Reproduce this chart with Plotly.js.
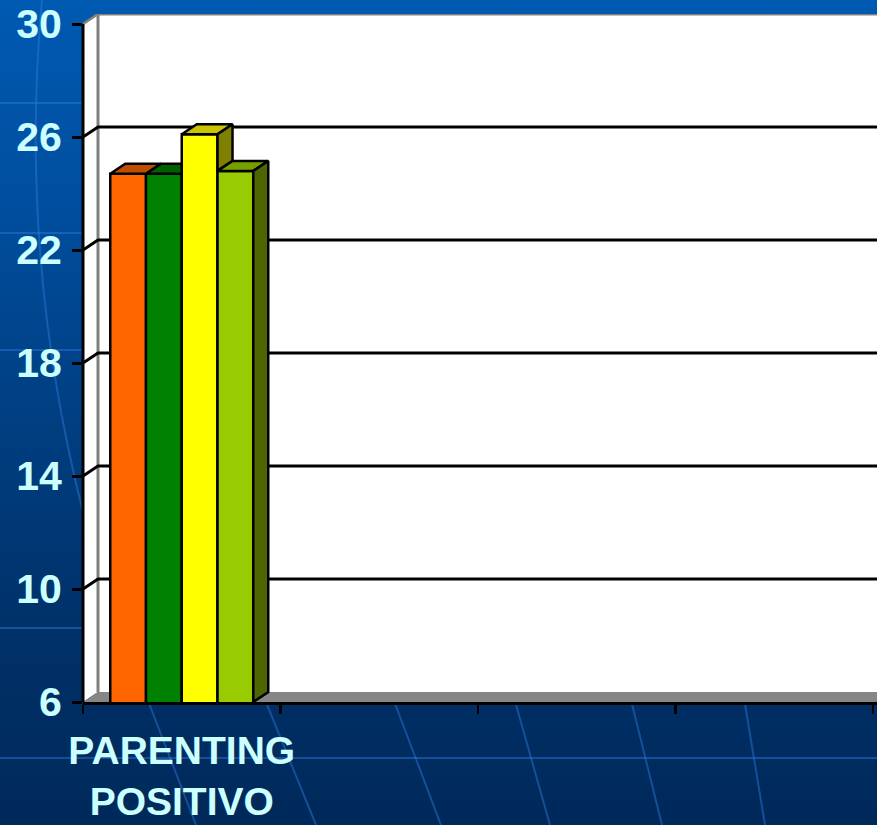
<!DOCTYPE html>
<html>
<head>
<meta charset="utf-8">
<script src="https://cdn.plot.ly/plotly-3.0.1.min.js"></script>
<style>
  html, body { margin: 0; padding: 0; width: 877px; height: 825px; overflow: hidden; }
  body { background: linear-gradient(to bottom, #005AB1 0%, #004E9E 25%, #003F82 50%, #00326A 75%, #00295A 100%); }
  #chart { width: 877px; height: 825px; }
</style>
</head>
<body>
<div id="chart"></div>
<script>
// ---- data ----
const categories = ['PARENTING<br>POSITIVO', '', '', ''];
const seriesNames = ['Serie 1', 'Serie 2', 'Serie 3', 'Serie 4'];
const serie1 = [24.7, null, null, null];
const serie2 = [24.7, null, null, null];
const serie3 = [26.1, null, null, null];
const serie4 = [24.8, null, null, null];
const yTickVals = [6, 10, 14, 18, 22, 26, 30];

// ---- styles ----
const frontColors = ['#FF6600', '#008000', '#FFFF00', '#99CC00'];
const topColors   = ['#C04D00', '#006000', '#C8C400', '#76A000'];
const sideColors  = ['#803300', '#004000', '#808000', '#4D6600'];
const labelColor = '#CCFFFF';
const fontFam = '"Liberation Sans", Arial, sans-serif';

const seriesValues = [serie1, serie2, serie3, serie4];
const yMin = 6, yMax = 30;
const bargap = 0.276;
const xLo = -0.5, xHi = 3.52;
const dxPx = 15, dyPx = 10;
const plotL = 83, plotR = 877, plotT = 14, plotB = 702;
const pxPerX = (plotR - plotL) / (xHi - xLo);
const dx = dxPx / pxPerX;
const pxPerY = (plotB - 24) / (yMax - yMin);
const dy = dyPx / pxPerY;
const yTop = yMin + (plotB - plotT) / pxPerY;

const xIdx = categories.map((c, i) => i);
const traces = [];
seriesValues.forEach((vals, s) => {
  traces.push({
    type: 'bar', x: xIdx, y: vals, name: seriesNames[s],
    marker: { color: frontColors[s], line: { color: '#000', width: 2.5 } },
    showlegend: false, hoverinfo: 'y'
  });
});

// 3D top and side faces derived from the same values
const n = seriesValues.length;
const groupW = 1 - bargap;
const w = groupW / n;
function poly(xs, ys, color) {
  traces.push({
    type: 'scatter', mode: 'lines', x: xs.concat([xs[0]]), y: ys.concat([ys[0]]),
    fill: 'toself', fillcolor: color, line: { color: '#000', width: 2.5 },
    hoverinfo: 'skip', showlegend: false
  });
}
xIdx.forEach(c => {
  for (let s = 0; s < n; s++) {
    const v = seriesValues[s][c];
    if (v == null) continue;
    const x0 = c - groupW / 2 + s * w, x1 = x0 + w;
    const v2 = s < n - 1 ? seriesValues[s + 1][c] : null;
    // top face
    if (v2 == null || v2 <= v) {
      poly([x0, x0 + dx, x1 + dx, x1], [v, v + dy, v + dy, v], topColors[s]);
    } else if (v2 >= v + dy) {
      poly([x0, x0 + dx, x1, x1], [v, v + dy, v + dy, v], topColors[s]);
    } else {
      const xc = x1 + dx * (v2 - v) / dy;
      poly([x0, x0 + dx, x1 + dx, xc, x1, x1], [v, v + dy, v + dy, v2, v2, v], topColors[s]);
    }
    // side face
    if (v2 == null) {
      poly([x1, x1, x1 + dx, x1 + dx], [yMin, v, v + dy, yMin + dy], sideColors[s]);
    } else if (v > v2) {
      poly([x1, x1, x1 + dx, x1 + dx], [v2, v, v + dy, v2 + dy], sideColors[s]);
    }
  }
});

// ---- shapes: walls, floor, gridlines, decoration ----
const px2px = x => (x - plotL) / (plotR - plotL);
const py2py = y => (plotB - y) / (plotB - plotT);
const deco = 'rgba(45,125,225,0.45)';
const shapes = [];
[103, 233, 350, 628, 758].forEach(y => shapes.push({
  type: 'line', xref: 'paper', yref: 'paper', x0: px2px(0), x1: px2px(877), y0: py2py(y), y1: py2py(y),
  line: { color: deco, width: 2 }, layer: 'below'
}));
[[148, 196], [265, 316], [394, 441], [517, 550], [634, 662], [749, 765]].forEach(p => shapes.push({
  type: 'line', xref: 'paper', yref: 'paper', x0: px2px(p[0] - 8), y0: py2py(680), x1: px2px(p[1]), y1: py2py(825),
  line: { color: deco, width: 2 }, layer: 'below'
}));
shapes.push({
  type: 'path', xref: 'paper', yref: 'paper', layer: 'below',
  path: `M ${px2px(42)} ${py2py(0)} Q ${px2px(18)} ${py2py(260)} ${px2px(85)} ${py2py(520)}`,
  line: { color: deco, width: 2 }
});
// back wall
shapes.push({ type: 'rect', xref: 'x', yref: 'y', x0: xLo + dx, x1: xHi + 1, y0: yMin + dy, y1: yMax + dy,
  fillcolor: '#FFFFFF', line: { width: 0 }, layer: 'below' });
// side wall
shapes.push({ type: 'path', xref: 'x', yref: 'y', layer: 'below',
  path: `M ${xLo} ${yMin} L ${xLo} ${yMax} L ${xLo + dx} ${yMax + dy} L ${xLo + dx} ${yMin + dy} Z`,
  fillcolor: '#FFFFFF', line: { width: 0 } });
// floor
shapes.push({ type: 'path', xref: 'x', yref: 'y', layer: 'below',
  path: `M ${xLo} ${yMin} L ${xLo + dx} ${yMin + dy} L ${xHi + 1} ${yMin + dy} L ${xHi + 1} ${yMin} Z`,
  fillcolor: '#868686', line: { width: 0 } });
// wall edges (gray)
shapes.push({ type: 'path', xref: 'x', yref: 'y', layer: 'below',
  path: `M ${xLo + dx} ${yMin + dy} L ${xLo + dx} ${yMax + dy} L ${xHi + 1} ${yMax + dy}`,
  line: { color: '#808080', width: 3 } });
shapes.push({ type: 'line', xref: 'x', yref: 'y', layer: 'below',
  x0: xLo, y0: yMax, x1: xLo + dx, y1: yMax + dy, line: { color: '#808080', width: 2.5 } });
// gridlines on back wall
yTickVals.filter(v => v > yMin && v < yMax).forEach(v => shapes.push({
  type: 'path', xref: 'x', yref: 'y', layer: 'below',
  path: `M ${xLo} ${v} L ${xLo + dx} ${v + dy} L ${xHi + 1} ${v + dy}`,
  line: { color: '#000', width: 3 }
}));
// front value axis line
shapes.push({ type: 'line', xref: 'paper', yref: 'y', x0: 0, x1: 0, y0: yMin, y1: yMax,
  line: { color: '#000', width: 3 }, layer: 'above' });

const layout = {
  width: 877, height: 825,
  margin: { l: plotL, r: 877 - plotR, t: plotT, b: 825 - plotB, pad: 0 },
  paper_bgcolor: 'rgba(0,0,0,0)', plot_bgcolor: 'rgba(0,0,0,0)',
  barmode: 'group', bargap: bargap, bargroupgap: 0,
  showlegend: false,
  xaxis: {
    range: [xLo, xHi], tickvals: xIdx, ticktext: categories, ticks: '',
    showgrid: false, zeroline: false, showline: true, linecolor: '#000', linewidth: 3,
    tickfont: { family: fontFam, size: 39, color: labelColor, weight: 700 },
    ticklabelstandoff: 12,
    minor: { ticks: 'outside', tick0: -0.5, dtick: 1, ticklen: 9, tickwidth: 2.5, tickcolor: '#000', showgrid: false },
    fixedrange: true
  },
  yaxis: {
    range: [yMin, yTop], tickvals: yTickVals, ticks: 'outside', ticklen: 10, tickwidth: 3, tickcolor: '#000',
    showgrid: false, zeroline: false, showline: false,
    tickfont: { family: fontFam, size: 41, color: labelColor, weight: 700 },
    ticklabelstandoff: 2, fixedrange: true
  },
  shapes: shapes
};

Plotly.newPlot('chart', traces, layout, { displayModeBar: false, staticPlot: true });
</script>
</body>
</html>
